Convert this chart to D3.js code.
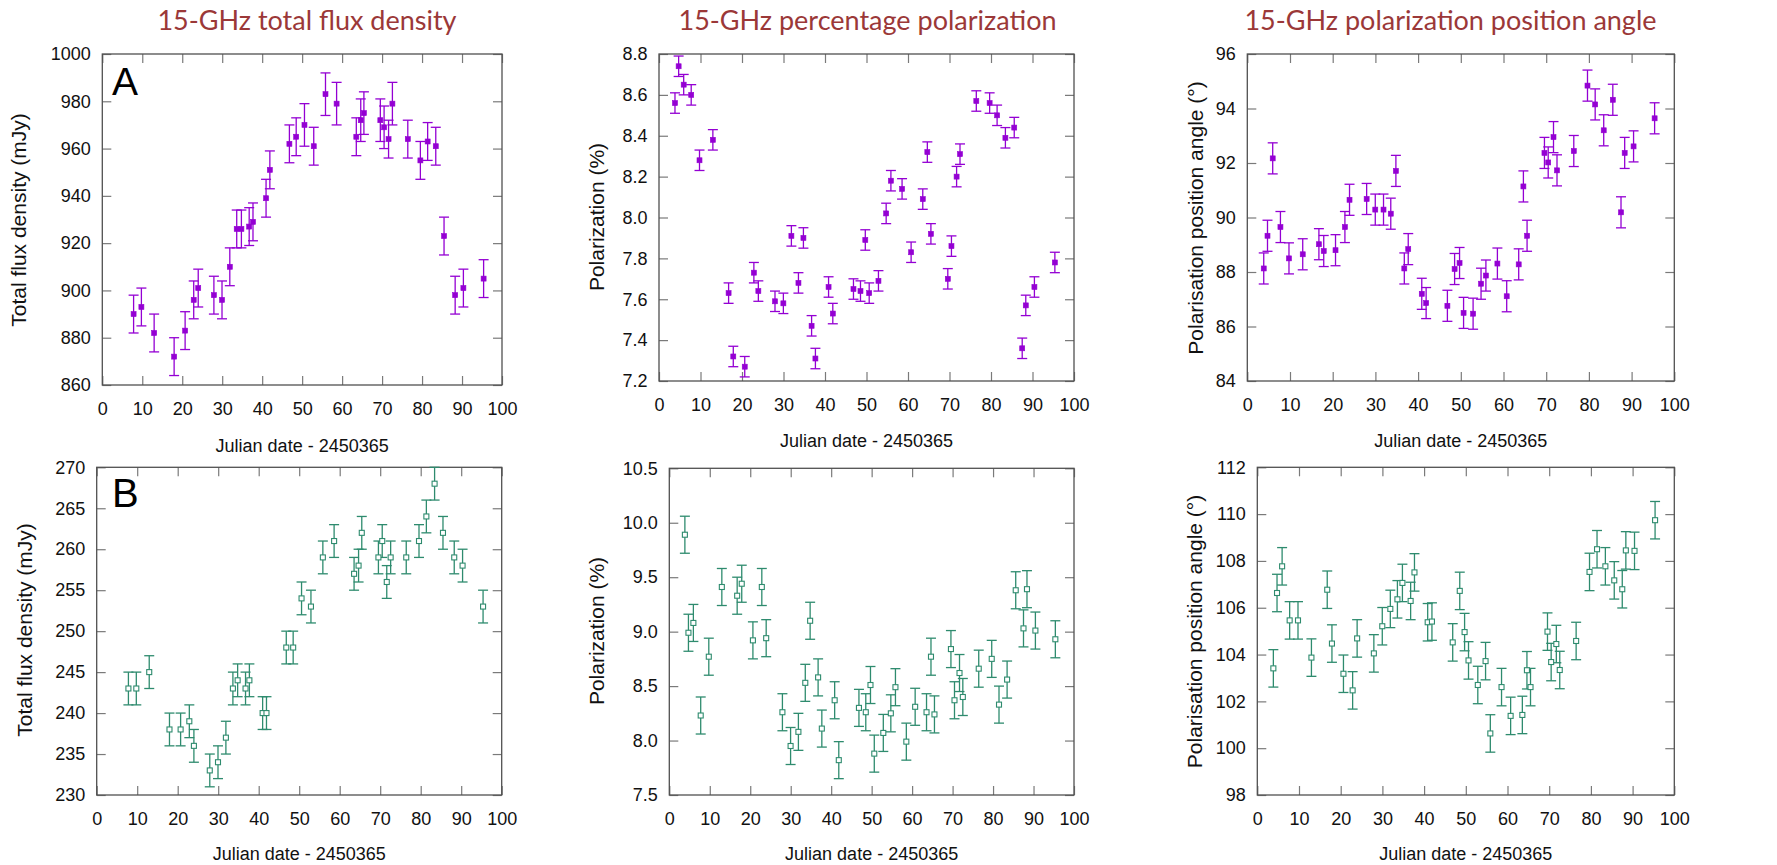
<!DOCTYPE html>
<html>
<head>
<meta charset="utf-8">
<script src="https://cdn.jsdelivr.net/npm/d3@7"></script>
<style>
  body { margin: 0; background: #fff; }
  svg { display: block; }
</style>
</head>
<body>
<script>
// ---- Observation dates (Julian date - 2450365) ----
const dateFlux = [7.83, 9.78, 12.97, 17.97, 20.72, 22.87, 24.0, 27.92, 29.95, 31.9,
  33.63, 34.8, 36.75, 37.7, 40.97, 41.92, 46.81, 48.51, 50.58, 52.9,
  55.84, 58.62, 63.55, 64.66, 65.45, 69.56, 70.5, 71.62, 72.58, 76.43,
  79.58, 81.4, 83.43, 85.5, 88.28, 90.34, 95.4];

const datePol = [3.85, 4.73, 5.95, 7.76, 9.76, 12.98, 16.77, 17.9, 20.66, 22.86,
  23.94, 27.95, 29.97, 31.9, 33.6, 34.8, 36.77, 37.69, 40.86, 41.88,
  46.86, 48.55, 49.71, 50.65, 52.88, 54.74, 55.88, 58.57, 60.75, 63.56,
  64.66, 65.52, 69.59, 70.47, 71.71, 72.53, 76.46, 79.67, 81.47, 83.47,
  85.6, 87.52, 88.38, 90.46, 95.39];

// ---- Source A ----
const fluxA = [890, 893, 882, 872, 883, 896, 901, 898, 896, 910,
  926, 926, 927, 929, 939, 951, 962, 965, 970, 961,
  983, 979, 965, 972, 975, 972, 969, 964, 979, 964,
  955, 963, 961, 923, 898, 901, 905];
const fluxAErr = [8, 8, 8, 8, 8, 8, 8, 8, 8, 8,
  8, 8, 8, 8, 8, 8, 8, 8, 9, 8,
  9, 9, 8, 9, 9, 9, 9, 8, 9, 8,
  8, 8, 8, 8, 8, 8, 8];

const polA = [8.56, 8.74, 8.65, 8.60, 8.28, 8.38, 7.63, 7.32, 7.27, 7.73,
  7.64, 7.59, 7.58, 7.91, 7.68, 7.90, 7.47, 7.31, 7.66, 7.53,
  7.65, 7.64, 7.89, 7.63, 7.69, 8.02, 8.18, 8.14, 7.83, 8.09,
  8.32, 7.92, 7.70, 7.86, 8.20, 8.31, 8.57, 8.56, 8.50, 8.39,
  8.44, 7.36, 7.57, 7.66, 7.78];
const polAErr = [0.05, 0.05, 0.05, 0.05, 0.05, 0.05, 0.05, 0.05, 0.05, 0.05,
  0.05, 0.05, 0.05, 0.05, 0.05, 0.05, 0.05, 0.05, 0.05, 0.05,
  0.05, 0.05, 0.05, 0.05, 0.05, 0.05, 0.05, 0.05, 0.05, 0.05,
  0.05, 0.05, 0.05, 0.05, 0.05, 0.05, 0.05, 0.05, 0.05, 0.05,
  0.05, 0.05, 0.05, 0.05, 0.05];

const angleA = [88.13, 89.33, 92.17, 89.65, 88.50, 88.65, 89.02, 88.77, 88.80, 89.65,
  90.65, 90.68, 90.29, 90.29, 90.14, 91.71, 88.13, 88.84, 87.20, 86.86,
  86.76, 88.11, 88.33, 86.50, 86.47, 87.57, 87.87, 88.31, 87.11, 88.28,
  91.14, 89.33, 92.37, 92.02, 92.95, 91.73, 92.44, 94.84, 94.15, 93.20,
  94.32, 90.19, 92.37, 92.61, 93.64];
const angleAErr = [0.57, 0.57, 0.57, 0.57, 0.57, 0.57, 0.57, 0.57, 0.57, 0.57,
  0.57, 0.57, 0.57, 0.57, 0.57, 0.57, 0.57, 0.57, 0.57, 0.57,
  0.57, 0.57, 0.57, 0.57, 0.57, 0.57, 0.57, 0.57, 0.57, 0.57,
  0.57, 0.57, 0.57, 0.57, 0.57, 0.57, 0.57, 0.57, 0.57, 0.57,
  0.57, 0.57, 0.57, 0.57, 0.57];

// ---- Source B ----
const fluxB = [243, 243, 245, 238, 238, 239, 236, 233, 234, 237,
  243, 244, 243, 244, 240, 240, 248, 248, 254, 253,
  259, 261, 257, 258, 262, 259, 261, 256, 259, 259,
  261, 264, 268, 262, 259, 258, 253];
const fluxBErr = [2, 2, 2, 2, 2, 2, 2, 2, 2, 2,
  2, 2, 2, 2, 2, 2, 2, 2, 2, 2,
  2, 2, 2, 2, 2, 2, 2, 2, 2, 2,
  2, 2, 2, 2, 2, 2, 2];

const polB = [9.89, 8.99, 9.08, 8.23, 8.77, 9.41, 9.33, 9.44, 8.92, 9.41,
  8.94, 8.26, 7.95, 8.08, 8.53, 9.10, 8.58, 8.11, 8.37, 7.82,
  8.30, 8.26, 8.51, 7.88, 8.07, 8.25, 8.49, 7.99, 8.31, 8.26,
  8.77, 8.24, 8.84, 8.37, 8.62, 8.40, 8.66, 8.75, 8.33, 8.56,
  9.38, 9.03, 9.39, 9.01, 8.93];
const polBErr = [0.17, 0.17, 0.17, 0.17, 0.17, 0.17, 0.17, 0.17, 0.17, 0.17,
  0.17, 0.17, 0.17, 0.17, 0.17, 0.17, 0.17, 0.17, 0.17, 0.17,
  0.17, 0.17, 0.17, 0.17, 0.17, 0.17, 0.17, 0.17, 0.17, 0.17,
  0.17, 0.17, 0.17, 0.17, 0.17, 0.17, 0.17, 0.17, 0.17, 0.17,
  0.17, 0.17, 0.17, 0.17, 0.17];

const angleB = [103.41, 106.63, 107.77, 105.46, 105.46, 103.87, 106.77, 104.47, 103.18, 102.47,
  104.69, 104.05, 105.21, 105.95, 106.36, 107.06, 106.29, 107.51, 105.38, 105.41,
  104.52, 106.72, 104.96, 103.75, 102.70, 103.72, 100.63, 102.61, 101.38, 101.42,
  103.33, 102.61, 104.98, 103.68, 104.45, 103.34, 104.58, 107.53, 108.50, 107.77,
  107.17, 106.79, 108.45, 108.43, 109.74];
const angleBErr = [0.8, 0.8, 0.8, 0.8, 0.8, 0.8, 0.8, 0.8, 0.8, 0.8,
  0.8, 0.8, 0.8, 0.8, 0.8, 0.8, 0.8, 0.8, 0.8, 0.8,
  0.8, 0.8, 0.8, 0.8, 0.8, 0.8, 0.8, 0.8, 0.8, 0.8,
  0.8, 0.8, 0.8, 0.8, 0.8, 0.8, 0.8, 0.8, 0.8, 0.8,
  0.8, 0.8, 0.8, 0.8, 0.8];

// ---- Tick labels ----
const xTicks = [0, 10, 20, 30, 40, 50, 60, 70, 80, 90, 100];
const fluxATicks = [860, 880, 900, 920, 940, 960, 980, 1000];
const polATicks = [7.2, 7.4, 7.6, 7.8, 8.0, 8.2, 8.4, 8.6, 8.8];
const angleATicks = [84, 86, 88, 90, 92, 94, 96];
const fluxBTicks = [230, 235, 240, 245, 250, 255, 260, 265, 270];
const polBTicks = [7.5, 8.0, 8.5, 9.0, 9.5, 10.0, 10.5];
const angleBTicks = [98, 100, 102, 104, 106, 108, 110, 112];

const titles = ["15-GHz total flux density", "15-GHz percentage polarization", "15-GHz polarization position angle"];
const xLabel = "Julian date - 2450365";
const yLabels = ["Total flux density (mJy)", "Polarization (%)", "Polarisation position angle (\u00b0)"];

// ---- Styles ----
const PURPLE = "#9400d3";
const GREEN = "#2e8b6e";
const FRAME = "#505050";
const TICK = "#7a7a7a";
const TITLE = "#9b3838";
const SANS = "'Liberation Sans', Arial, sans-serif";
const TITLE_FONT = "Lato, 'Open Sans', sans-serif";

const panels = [
  { dates: dateFlux, values: fluxA, errors: fluxAErr, ticks: fluxATicks, fmt: d3.format("d"),
    yLabel: yLabels[0], color: PURPLE, filled: true,
    box: { l: 102.3, r: 502, t: 54, b: 385 }, yLabelX: 26, yLabelY: 220, xLabelY: 452 },
  { dates: datePol, values: polA, errors: polAErr, ticks: polATicks, fmt: d3.format(".1f"),
    yLabel: yLabels[1], color: PURPLE, filled: true,
    box: { l: 659, r: 1074, t: 54, b: 381 }, yLabelX: 604, yLabelY: 217, xLabelY: 447 },
  { dates: datePol, values: angleA, errors: angleAErr, ticks: angleATicks, fmt: d3.format("d"),
    yLabel: yLabels[2], color: PURPLE, filled: true,
    box: { l: 1247.3, r: 1674.3, t: 54, b: 381 }, yLabelX: 1203, yLabelY: 218, xLabelY: 447 },
  { dates: dateFlux, values: fluxB, errors: fluxBErr, ticks: fluxBTicks, fmt: d3.format("d"),
    yLabel: yLabels[0], color: GREEN, filled: false,
    box: { l: 96.7, r: 501.7, t: 467.3, b: 795 }, yLabelX: 32, yLabelY: 630, xLabelY: 860 },
  { dates: datePol, values: polB, errors: polBErr, ticks: polBTicks, fmt: d3.format(".1f"),
    yLabel: yLabels[1], color: GREEN, filled: false,
    box: { l: 669.3, r: 1074, t: 468.3, b: 795 }, yLabelX: 604, yLabelY: 631, xLabelY: 860 },
  { dates: datePol, values: angleB, errors: angleBErr, ticks: angleBTicks, fmt: d3.format("d"),
    yLabel: yLabels[2], color: GREEN, filled: false,
    box: { l: 1257.3, r: 1674.3, t: 467.3, b: 795 }, yLabelX: 1202, yLabelY: 631.5, xLabelY: 860 }
];

const svg = d3.select("body").append("svg")
  .attr("width", 1777).attr("height", 865)
  .style("font-family", SANS);

const TICK_LEN = 9;
const MARK = 5;
const CAP = 10;

panels.forEach(p => {
  const { l, r, t, b } = p.box;
  const x = d3.scaleLinear().domain([xTicks[0], xTicks[xTicks.length - 1]]).range([l, r]);
  const y = d3.scaleLinear().domain([p.ticks[0], p.ticks[p.ticks.length - 1]]).range([b, t]);
  const g = svg.append("g");

  // Inward ticks on all four sides; labels on bottom and left only
  const axes = [
    { ax: d3.axisBottom(x).tickValues(xTicks).tickSize(-TICK_LEN).tickPadding(17).tickFormat(d3.format("d")), tr: `translate(0,${b})` },
    { ax: d3.axisTop(x).tickValues(xTicks).tickSize(-TICK_LEN).tickFormat(""), tr: `translate(0,${t})` },
    { ax: d3.axisLeft(y).tickValues(p.ticks).tickSize(-TICK_LEN).tickPadding(11.5).tickFormat(p.fmt), tr: `translate(${l},0)` },
    { ax: d3.axisRight(y).tickValues(p.ticks).tickSize(-TICK_LEN).tickFormat(""), tr: `translate(${r},0)` }
  ];
  axes.forEach(a => {
    const ag = g.append("g").attr("transform", a.tr).call(a.ax);
    ag.select(".domain").remove();
    ag.selectAll(".tick line").attr("stroke", TICK).attr("stroke-width", 1.2);
    ag.selectAll(".tick text")
      .attr("fill", "#111")
      .style("font-family", SANS)
      .style("font-size", "18px");
  });

  // Plot frame
  g.append("rect")
    .attr("x", l).attr("y", t).attr("width", r - l).attr("height", b - t)
    .attr("fill", "none").attr("stroke", FRAME).attr("stroke-width", 1.3);

  const pts = p.dates.map((d, i) => ({ d, v: p.values[i], e: p.errors[i] }));

  // Error bars
  const eb = g.append("g").attr("stroke", p.color).attr("stroke-width", 1.3).attr("fill", "none");
  const bars = eb.selectAll("g").data(pts).join("g");
  bars.append("line")
    .attr("x1", q => x(q.d)).attr("x2", q => x(q.d))
    .attr("y1", q => y(q.v - q.e)).attr("y2", q => y(q.v + q.e));
  bars.append("line")
    .attr("x1", q => x(q.d) - CAP / 2).attr("x2", q => x(q.d) + CAP / 2)
    .attr("y1", q => y(q.v + q.e)).attr("y2", q => y(q.v + q.e));
  bars.append("line")
    .attr("x1", q => x(q.d) - CAP / 2).attr("x2", q => x(q.d) + CAP / 2)
    .attr("y1", q => y(q.v - q.e)).attr("y2", q => y(q.v - q.e));

  // Markers
  g.append("g").selectAll("rect").data(pts).join("rect")
    .attr("x", q => x(q.d) - MARK / 2).attr("y", q => y(q.v) - MARK / 2)
    .attr("width", MARK).attr("height", MARK)
    .attr("fill", p.filled ? p.color : "#fff")
    .attr("stroke", p.color).attr("stroke-width", p.filled ? 0.6 : 1.1);

  // Axis titles
  g.append("text")
    .attr("x", (l + r) / 2).attr("y", p.xLabelY)
    .attr("text-anchor", "middle")
    .style("font-size", "18px").attr("fill", "#111")
    .text(xLabel);
  g.append("text")
    .attr("transform", `translate(${p.yLabelX},${p.yLabelY}) rotate(-90)`)
    .attr("text-anchor", "middle")
    .style("font-size", "21px").attr("fill", "#111")
    .text(p.yLabel);
});

// Column headings
const titleX = [307, 867.5, 1450.5];
svg.selectAll("text.col-title").data(titles).join("text")
  .attr("class", "col-title")
  .attr("x", (d, i) => titleX[i]).attr("y", 30)
  .attr("text-anchor", "middle")
  .style("font-family", TITLE_FONT)
  .style("font-size", "27px")
  .attr("fill", TITLE)
  .text(d => d);

// Row tags
svg.append("text").attr("x", 112).attr("y", 95)
  .style("font-size", "39px").attr("fill", "#000").text("A");
svg.append("text").attr("x", 112).attr("y", 507)
  .style("font-size", "40px").attr("fill", "#000").text("B");
</script>
</body>
</html>
